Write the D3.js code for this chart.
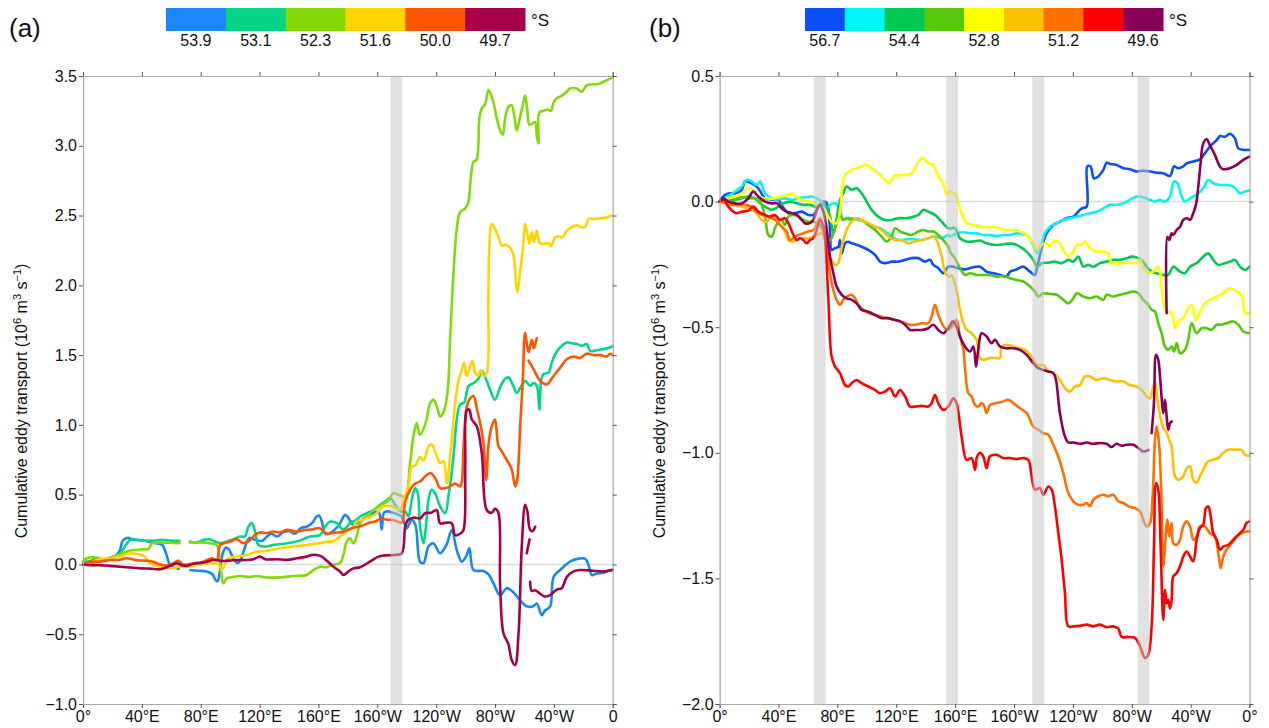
<!DOCTYPE html>
<html>
<head>
<meta charset="utf-8">
<script src="https://cdn.jsdelivr.net/npm/d3@7"></script>
<style>
  body { margin: 0; background: #fff; }
  svg { display: block; font-family: "Liberation Sans", Arial, Helvetica, sans-serif; }
</style>
</head>
<body>
<svg id="chart" width="1269" height="728"></svg>
<script>
// ---------- shared axis content ----------
const lonTicks = [0, 40, 80, 120, 160, 200, 240, 280, 320, 360];
const lonLabelsA = ["0°", "40°E", "80°E", "120°E", "160°E", "160°W", "120°W", "80°W", "40°W", "0"];
const lonLabelsB = ["0°", "40°E", "80°E", "120°E", "160°E", "160°W", "120°W", "80°W", "40°W", "0°"];
const yTicksA = [-1.0, -0.5, 0.0, 0.5, 1.0, 1.5, 2.0, 2.5, 3.0, 3.5];
const yTicksB = [-2.0, -1.5, -1.0, -0.5, 0.0, 0.5];

// ---------- panel (a): six latitudes ----------
const latsA = ["53.9", "53.1", "52.3", "51.6", "50.0", "49.7"];
const colorsA = ["#1987f5", "#05d584", "#84d90a", "#ffd400", "#ff5500", "#a6004a"];
const bandsA = [[209, 217]];

// each series: [longitude (°E, 0–360), cumulative transport]; null breaks the line
const a539 = [[0,0],[5,0.01],[10,0.02],[15,0.03],[20,0.045],[23,0.07],[25,0.1],[27,0.17],[30,0.19],[34,0.18],[38,0.175],[42,0.17],[46,0.16],[50,0.15],[53,0.145],[55,0.12],[57,0.06],[59,0.0],[62,-0.02],[65,-0.03],null,
 [73,-0.04],[78,-0.045],[84,-0.05],[88,-0.07],[90,-0.11],[91.5,-0.12],[93,-0.05],[95,0.08],[97,0.12],[99,0.11],[101,0.07],[103,0.03],[105,0.01],[107,0.03],[109,0.09],[111,0.15],[113,0.19],[116,0.18],[119,0.17],[122,0.17],[125,0.2],[128,0.22],[132,0.2],[136,0.23],[140,0.24],[144,0.22],[148,0.26],[152,0.27],[156,0.3],[158.5,0.34],[160.5,0.35],[162.5,0.3],[164.5,0.22],[167,0.22],[170,0.24],[173,0.27],[175,0.3],[178,0.355],[180,0.34],[183.8,0.284],[188,0.31],[193,0.345],[197.4,0.37],[201,0.375],[203,0.25],[204.5,0.37],[206.4,0.38],[211,0.37],[214.4,0.355],[216.6,0.344],[220,0.26],[223.4,0.32],[226,0.28],[229,0.02],[231.4,0.01],[234.8,0.128],[238,0.152],[242.7,0.08],[247,0.14],[250.6,0.247],[254,0.104],[257.4,0.02],[260.5,0.06],[262.6,0.116],[265.4,-0.04],[272,-0.047],[275.5,-0.07],[279,-0.136],[283.5,-0.22],[288,-0.17],[292.6,-0.2],[297,-0.256],[301.6,-0.3],[306,-0.3],[308.4,-0.28],[311.8,-0.363],[314,-0.33],[317.5,-0.3],[319.8,-0.09],[324.3,-0.04],[331,0.02],[336,0.04],[341.3,0.04],[343.5,0.0],[345.8,-0.076],[349,-0.065],[353.8,-0.06],[358.3,-0.04],[360,-0.04]];

const a531 = [[0,0.02],[5,0.025],[9,0.044],[14,0.035],[20,0.056],[25,0.075],[28,0.12],[30,0.152],[32,0.176],[37,0.175],[43,0.17],[48,0.17],[54,0.176],[60,0.17],[65.5,0.17],null,
 [72.7,0.164],[77,0.158],[81.8,0.176],[86,0.18],[89.8,0.164],[93.2,0.152],[97.7,0.165],[102.2,0.18],[106.7,0.2],[110,0.2],[112.4,0.27],[114.7,0.296],[117,0.235],[119.2,0.14],[122.6,0.128],[130,0.14],[138.5,0.152],[147,0.17],[154.3,0.2],[161,0.21],[164.5,0.27],[168,0.307],[172.5,0.296],[177,0.25],[181.5,0.296],[186,0.32],[188.3,0.344],[192.8,0.367],[197.4,0.39],[202,0.427],[205.3,0.45],[208.7,0.475],[212.1,0.43],[215.5,0.38],[219,0.38],[221.2,0.343],[223.4,0.46],[225.7,0.547],[227.5,0.51],[229.1,0.27],[231.4,0.152],[233,0.26],[234.8,0.463],[237,0.535],[239.3,0.51],[242.7,0.415],[246.1,0.367],[248.4,0.49],[251.8,0.774],[254,1.038],[256.3,1.146],[259,1.16],[262,1.278],[265.4,1.3],[268.8,1.33],[271,1.387],[274.4,1.315],[276.7,1.25],[280,1.18],[283.5,1.27],[286.9,1.33],[289.2,1.34],[292,1.29],[294.8,1.23],[298,1.28],[300.5,1.316],[303.9,1.28],[306,1.3],[308.4,1.28],[310.2,1.11],[311.5,1.33],[313,1.364],[316.4,1.375],[318.6,1.447],[321,1.507],[324.3,1.555],[328.8,1.59],[332.2,1.585],[335.7,1.58],[339,1.567],[342.4,1.58],[344.7,1.53],[349.3,1.535],[353.8,1.543],[359.4,1.56],[360,1.565]];

const a523 = [[0,0.02],[2.5,0.044],[9.3,0.05],[16,0.03],[20.6,0.056],[27.4,0.08],[32,0.1],[36.5,0.104],[41,0.11],[44.5,0.11],[46.7,0.15],[50,0.157],[58,0.155],[65.5,0.152],null,
 [72.7,0.157],[80,0.158],[86,0.152],[90.9,0.14],[93,0.03],[94.3,-0.09],[95.4,-0.135],[97.7,-0.1],[102,-0.09],[106.7,-0.083],[113,-0.09],[118,-0.083],[124.9,-0.093],[134,-0.093],[143,-0.083],[152,-0.075],[156.6,-0.04],[161,-0.016],[165.5,-0.02],[170,-0.003],[174.7,0.01],[177,0.07],[179.2,0.163],[181.5,0.187],[183.8,0.15],[186,0.2],[188.3,0.295],[192.8,0.344],[197.4,0.39],[202,0.42],[207.6,0.46],[211,0.51],[214.4,0.5],[218.9,0.487],[222.3,0.727],[224.6,0.92],[226.8,1.013],[229,0.93],[232.5,1.0],[236,1.157],[238.2,1.18],[240.5,1.13],[242.7,1.06],[245,1.09],[247.7,1.23],[249.5,1.615],[251.8,2.09],[254,2.4],[256.3,2.525],[259.7,2.55],[262,2.6],[263.5,2.765],[265.4,2.885],[267.5,2.9],[269.4,3.196],[271,3.268],[273.3,3.3],[275.6,3.4],[277.8,3.35],[279.4,3.29],[281.2,3.196],[283.5,3.11],[285.3,3.08],[286.9,3.196],[289.2,3.28],[291.4,3.29],[293,3.22],[294.8,3.11],[296.9,3.2],[298.9,3.29],[300.5,3.36],[302.1,3.24],[303.4,3.15],[305.5,3.16],[307.3,3.17],[308.4,3.07],[309.6,3.016],[310.2,3.24],[313,3.25],[316,3.26],[318,3.25],[319.8,3.31],[322,3.34],[325.5,3.36],[328.8,3.387],[331,3.41],[335.6,3.41],[339,3.387],[342.4,3.435],[347,3.44],[351.5,3.447],[356,3.47],[359.4,3.488],[360,3.49]];

const a516 = [[0,0],[5,0.015],[11.6,0.037],[18,0.045],[25.2,0.056],[32,0.08],[38.8,0.07],[42,0.056],[44.4,0.02],[47.8,-0.004],[54.6,-0.02],[61,-0.025],[66,-0.016],[72.7,-0.012],[79.6,0.0],[86,0.008],[92,0.0],[94.3,-0.04],[96.5,0.0],[98.8,0.044],[104,0.056],[111.3,0.068],[118,0.09],[125,0.097],[134,0.116],[143,0.128],[152,0.14],[161,0.152],[165.7,0.164],[170,0.165],[174.7,0.2],[179.3,0.236],[183.8,0.272],[186,0.307],[192.8,0.33],[199.6,0.367],[204,0.415],[207.5,0.42],[211,0.415],[215.5,0.39],[217.8,0.46],[221.2,0.56],[223.4,0.7],[226,0.71],[229.1,0.77],[231.5,0.746],[234.8,0.846],[237,0.86],[239.3,0.81],[242.7,0.726],[245,0.74],[247.2,0.58],[249.5,0.774],[251.5,1.0],[252.9,1.157],[255.2,1.316],[257.4,1.39],[259,1.447],[260.8,1.35],[263,1.42],[264.7,1.46],[266.5,1.375],[268.5,1.35],[270.3,1.39],[272.6,1.35],[274.6,1.38],[275.5,1.9],[276.2,2.285],[277.8,2.44],[280,2.405],[282.4,2.345],[284.6,2.285],[287,2.29],[290.3,2.27],[292.6,2.213],[294.4,2.0],[295.3,1.95],[297,2.09],[298.9,2.26],[300.5,2.44],[302.1,2.36],[303.4,2.3],[305,2.38],[306.5,2.31],[308.4,2.39],[310.7,2.3],[314,2.3],[316.4,2.3],[318,2.28],[320.9,2.345],[323,2.35],[325.5,2.345],[328.8,2.39],[332.2,2.418],[335.6,2.43],[338,2.418],[341.3,2.418],[343.6,2.477],[347,2.475],[351.5,2.48],[356,2.487],[359.4,2.5],[360,2.5]];

const a500 = [[0,0],[4.8,0.02],[11.6,0.02],[18.4,0.032],[24,0.032],[29.7,0.044],[36.5,0.03],[43.3,0.027],[47.8,0.02],[52.4,0.0],[56.9,-0.008],[61.4,0.008],[64.8,0.027],[68,0.0],[75,0.008],[81.8,0.02],[87.5,0.044],[90.9,0.032],[93.2,0.14],[95.4,0.15],[100,0.164],[104.5,0.18],[109,0.152],[113.5,0.175],[117,0.212],[120.3,0.229],[124.9,0.225],[129.4,0.236],[134,0.23],[138.5,0.248],[145.3,0.236],[152,0.248],[156.6,0.253],[161,0.26],[165.7,0.22],[170.2,0.228],[174.7,0.23],[179.3,0.245],[182.7,0.26],[188.3,0.273],[195,0.3],[199,0.31],[203,0.33],[206.4,0.32],[209.8,0.32],[213.2,0.31],[216.6,0.3],[219,0.45],[222.3,0.535],[225.7,0.58],[229.1,0.595],[232.5,0.63],[236,0.655],[239.3,0.62],[242.7,0.547],[246.1,0.547],[249.5,0.56],[252.9,0.58],[256.3,0.56],[258.6,0.845],[260.8,1.133],[263.1,1.19],[265.4,1.206],[267.6,1.12],[269.9,1.013],[272.2,0.87],[274,0.606],[275.6,0.86],[277.8,0.99],[280,1.038],[282.3,0.85],[284.6,0.81],[288,0.75],[291.4,0.68],[293.7,0.558],[295,0.6],[297.1,0.99],[298.9,1.325],[300.5,1.66],[302.8,1.52],[305,1.61],[306.5,1.55],[308.4,1.62],null,
 [302.8,1.46],[306.2,1.4],[310.7,1.316],[315.2,1.29],[319.8,1.35],[324.3,1.41],[328.8,1.47],[333.4,1.49],[337.9,1.48],[342.4,1.51],[347,1.5],[351.5,1.5],[356,1.49],[358.3,1.51],[360,1.5]];

const a497 = [[0,0],[5,-0.005],[11.6,-0.006],[18,-0.01],[25.2,-0.016],[32,-0.022],[38.8,-0.028],[45.6,-0.03],[52.4,-0.035],[56.9,-0.02],[63.7,0.008],[67,-0.005],[70.5,-0.01],[75,0.005],[81.8,0.013],[88.6,0.032],[95.4,0.025],[102,0.03],[109,0.032],[115,0.035],[120.3,0.056],[124,0.037],[131.7,0.037],[138.5,0.033],[145.3,0.044],[152,0.056],[155.5,0.068],[158.9,0.068],[162.3,0.056],[165.7,0.027],[170.2,-0.016],[174.7,-0.05],[177,-0.075],[180.4,-0.05],[183.8,-0.028],[188.3,-0.02],[195,0.02],[200.8,0.056],[205.3,0.065],[211,0.068],[216.6,0.08],[219,0.27],[221,0.32],[224.6,0.335],[229.1,0.33],[232.5,0.367],[236.5,0.37],[240.4,0.39],[242.7,0.295],[247.2,0.3],[250.6,0.295],[252.9,0.21],[256.4,0.22],[258.6,0.247],[259.8,0.7],[260.8,1.1],[262.5,1.11],[264.2,1.04],[267.6,0.99],[271,0.8],[274.4,0.39],[277.8,0.37],[280,0.4],[282.3,0.37],[283.5,-0.16],[285.8,-0.495],[289,-0.567],[291.4,-0.686],[293.7,-0.72],[296,-0.495],[298.2,0.128],[300.5,0.427],[302,0.38],[303.9,0.247],[305.6,0.24],[307.3,0.27],null,
 [301.6,0.08],[303.5,0.18],null,
 [303.9,-0.124],[305,-0.19],[307.3,-0.185],[310.7,-0.21],[314,-0.23],[317.4,-0.22],[322,-0.18],[325.4,-0.17],[328.8,-0.09],[333.4,-0.05],[338,-0.04],[346.8,-0.045],[353.8,-0.05],[359.4,-0.04],[360,-0.04]];

const seriesA = [a539, a531, a523, a516, a500, a497];

// ---------- panel (b): nine latitudes ----------
const latsB = ["56.7", "", "54.4", "", "52.8", "", "51.2", "", "49.6"];
const colorsB = ["#0a50f5", "#00f5f5", "#00c853", "#55c80a", "#ffff00", "#ffc000", "#ff7000", "#ff0000", "#8a0058"];
const bandsB = [[64, 72], [154, 162], [212.5, 220.5], [284, 292]];

const b1 = [[0,0],[3.7,0.027],[7,0.033],[11,0.033],[15,0.046],[17.3,0.08],[21.8,0.073],[26.3,0.053],[30.8,0.013],[35.4,0.009],[39.9,0.007],[42,-0.013],[46.7,-0.046],[51,-0.046],[55.8,-0.04],[60.3,-0.053],[63.7,-0.053],[67.1,-0.02],[70.5,0.0],[72.8,-0.007],[75,-0.113],[76.1,-0.192],[78.4,-0.185],[80.7,-0.18],[81.8,-0.153],[83,-0.206],[85.2,-0.166],[87.5,-0.16],[89.7,-0.166],[93.1,-0.172],[96.5,-0.18],[101,-0.192],[105.6,-0.212],[109,-0.239],[112.4,-0.245],[116.9,-0.239],[121.4,-0.239],[126,-0.232],[130.5,-0.225],[135,-0.225],[139.5,-0.239],[143,-0.232],[145.2,-0.252],[148.6,-0.265],[152,-0.285],[155.4,-0.259],[158,-0.259],[162.2,-0.265],[166.7,-0.27],[170,-0.265],[176.9,-0.259],[181.4,-0.279],[186,-0.285],[190.5,-0.292],[195,-0.298],[197.3,-0.279],[201.8,-0.27],[206.3,-0.259],[210.9,-0.279],[214.2,-0.292],[215.8,-0.259],[218.8,-0.186],[222.2,-0.126],[226.7,-0.093],[231.2,-0.08],[235.8,-0.066],[240.3,-0.06],[243.7,-0.04],[246,-0.027],[249.4,-0.02],[249.8,0.14],[252,0.14],[254.3,0.093],[257.3,0.1],[260.7,0.126],[263,0.155],[265.2,0.15],[269.7,0.146],[274.3,0.133],[278.8,0.129],[283.3,0.12],[287.8,0.123],[292.4,0.12],[296.9,0.115],[301.4,0.113],[306,0.102],[308.7,0.14],[311.6,0.133],[315,0.14],[317.3,0.152],[321.8,0.16],[326.3,0.168],[329.7,0.192],[333.1,0.219],[337.7,0.245],[340,0.261],[343.3,0.258],[346.7,0.27],[350.1,0.252],[352.4,0.212],[355.8,0.206],[360,0.206]];

const b2 = [[0,0],[5,0.02],[10.5,0.04],[15,0.06],[18.4,0.086],[21.8,0.08],[25.2,0.066],[27.5,0.08],[30.9,0.033],[35.4,0.013],[39.9,0.009],[44.4,0.013],[49,0.007],[53.5,0.013],[58,0.017],[62.5,0.02],[66,0.013],[69.3,0.0],[72.8,-0.027],[75,-0.013],[78.4,-0.007],[81.8,-0.033],[84,-0.073],[86.3,-0.066],[89.7,-0.066],[94.3,-0.073],[98.8,-0.08],[102.2,-0.093],[105.6,-0.102],[109,-0.106],[112.4,-0.119],[116.9,-0.139],[121.5,-0.153],[127,-0.15],[132.8,-0.15],[137.3,-0.153],[141.8,-0.146],[146.3,-0.139],[150.9,-0.146],[155.4,-0.133],[156.5,-0.139],[161,-0.126],[165.5,-0.122],[170,-0.126],[174.6,-0.126],[179.1,-0.133],[183.6,-0.133],[188.2,-0.137],[192.7,-0.133],[197.2,-0.133],[201.8,-0.126],[206.3,-0.129],[209.7,-0.139],[213.1,-0.172],[215.8,-0.206],[218.8,-0.166],[221,-0.126],[224.4,-0.1],[229,-0.086],[233.5,-0.073],[238,-0.066],[242.6,-0.06],[247.1,-0.053],[251.6,-0.046],[256.1,-0.04],[260.7,-0.027],[265.2,-0.013],[269.7,-0.013],[274.3,-0.007],[278.8,0.007],[283.3,0.02],[287.8,0.017],[292.4,0.007],[295.8,0.0],[299.2,0.007],[302.6,0.0],[306,0.02],[308.7,0.08],[311,0.073],[313.9,0.02],[316.2,0.0],[319.6,0.013],[324.1,0.027],[328.6,0.053],[332,0.086],[335.4,0.073],[340,0.066],[344.5,0.066],[349,0.06],[351.3,0.046],[353.5,0.033],[356.9,0.04],[360,0.044]];

const b3 = [[0,0],[6,-0.004],[10.5,0.007],[15,0.013],[19.5,0.02],[24,0.013],[27.5,-0.007],[30.9,-0.02],[35.4,-0.033],[39.9,-0.02],[43.3,-0.007],[47.8,0.0],[52.4,-0.007],[57,-0.013],[61.5,-0.013],[64.8,-0.02],[68.2,-0.02],[71.7,-0.013],[75,-0.06],[77.3,-0.126],[79.5,-0.07],[81.8,0.007],[84,0.033],[86.3,0.06],[89.7,0.047],[93.1,0.053],[96.5,0.033],[99.9,0.0],[103.3,-0.033],[107.8,-0.06],[112.4,-0.073],[116.9,-0.073],[121.4,-0.066],[126,-0.066],[130.5,-0.062],[135,-0.053],[138.4,-0.033],[141.8,-0.04],[146.3,-0.053],[150.9,-0.08],[155.4,-0.106],[160,-0.106],[163.3,-0.146],[167.8,-0.159],[172.4,-0.159],[176.9,-0.155],[181.4,-0.166],[186,-0.172],[190.5,-0.172],[195,-0.168],[199.5,-0.168],[204,-0.179],[208.6,-0.199],[213.1,-0.232],[215.8,-0.259],[218.8,-0.245],[223.3,-0.243],[227.8,-0.239],[232.4,-0.245],[236.9,-0.232],[240.3,-0.239],[243.7,-0.219],[247.1,-0.259],[250.5,-0.252],[253.9,-0.259],[258.4,-0.245],[262.9,-0.239],[267.5,-0.232],[272,-0.232],[276.5,-0.226],[279.9,-0.219],[283.3,-0.222],[286.7,-0.232],[290.1,-0.259],[293.5,-0.279],[296.9,-0.285],[301.4,-0.292],[304.8,-0.292],[308.2,-0.259],[312.8,-0.279],[316.2,-0.285],[319.6,-0.259],[324.1,-0.245],[328.6,-0.219],[332,-0.206],[335.4,-0.232],[338.8,-0.252],[343.3,-0.245],[346.7,-0.239],[350.1,-0.232],[353.5,-0.259],[357,-0.272],[360,-0.259]];

const b4 = [[0,0],[6,0.004],[10.5,0.013],[15,0.017],[19.5,0.013],[24,0.013],[27.5,0.0],[30.9,-0.06],[33.1,-0.133],[35.4,-0.139],[37.6,-0.106],[39.9,-0.08],[42.2,-0.073],[44.4,-0.093],[46.7,-0.06],[50,-0.053],[53.5,-0.06],[57,-0.073],[60.3,-0.08],[63.7,-0.08],[66,-0.086],[69,-0.1],[71.7,-0.139],[75,-0.153],[77.3,-0.126],[79.5,-0.086],[81.8,-0.053],[84,-0.073],[86.3,-0.066],[89.7,-0.073],[93.1,-0.066],[96.5,-0.073],[101,-0.093],[105.6,-0.113],[110.1,-0.139],[113.5,-0.159],[116.9,-0.139],[119.2,-0.106],[122.6,-0.119],[126,-0.126],[130.5,-0.133],[135,-0.119],[138.4,-0.113],[141.8,-0.119],[145.2,-0.119],[148.6,-0.133],[152,-0.153],[155.4,-0.179],[156.5,-0.199],[159.9,-0.226],[163.3,-0.265],[166.7,-0.292],[170.1,-0.285],[174.6,-0.292],[179.1,-0.292],[183.7,-0.292],[188.2,-0.299],[192.7,-0.296],[197.3,-0.305],[201.8,-0.312],[206.3,-0.318],[210.9,-0.338],[214.2,-0.358],[216.5,-0.378],[219.9,-0.365],[224.4,-0.368],[229,-0.371],[233.5,-0.391],[236.9,-0.405],[240.3,-0.385],[242.6,-0.365],[247.1,-0.378],[251.6,-0.385],[256.1,-0.378],[260.7,-0.391],[263,-0.371],[267.5,-0.378],[272,-0.371],[276.5,-0.365],[281,-0.358],[284.5,-0.365],[287.8,-0.391],[291.2,-0.411],[293.5,-0.431],[295.8,-0.438],[298,-0.484],[300.3,-0.524],[302.6,-0.577],[304.8,-0.59],[307.1,-0.577],[308.7,-0.597],[310.5,-0.564],[312.8,-0.604],[316.2,-0.59],[318.4,-0.55],[320.7,-0.484],[324.1,-0.524],[327.5,-0.504],[330.9,-0.504],[334.3,-0.51],[337.7,-0.49],[341,-0.49],[344.5,-0.484],[349,-0.477],[352.4,-0.49],[355.8,-0.517],[360,-0.524]];

const b5 = [[0,0],[5,0.013],[10.5,0.02],[15,0.033],[19.5,0.053],[23,0.047],[26.3,0.02],[30.9,0.013],[37,0.013],[42.2,0.02],[46.7,0.027],[49,0.033],[51.5,0.02],[55.8,0.007],[60.3,0.0],[64.8,-0.007],[69.3,-0.02],[73.9,-0.06],[76.1,-0.08],[79.5,-0.086],[81.8,-0.04],[84,0.086],[86.3,0.113],[89.7,0.126],[93.1,0.133],[96.5,0.14],[99.9,0.146],[103.3,0.133],[107.8,0.113],[112.4,0.086],[115.8,0.073],[118,0.1],[122.6,0.106],[127,0.106],[130.5,0.113],[132.8,0.133],[136.1,0.166],[138.4,0.172],[141.8,0.153],[145.2,0.146],[148.6,0.1],[152,0.073],[154.3,0.027],[156.5,0.04],[159,0.033],[161,0.02],[164.4,-0.046],[167.8,-0.086],[172.4,-0.093],[176.9,-0.1],[181.4,-0.102],[186,-0.1],[190.5,-0.106],[195,-0.113],[199.5,-0.113],[204,-0.119],[208.6,-0.133],[213.1,-0.166],[215.4,-0.192],[218.8,-0.172],[222.2,-0.166],[224.5,-0.179],[226.7,-0.159],[230,-0.159],[233.5,-0.192],[236.9,-0.219],[240.3,-0.199],[242.6,-0.172],[246,-0.172],[248.2,-0.159],[251.6,-0.186],[256.1,-0.199],[260.7,-0.199],[264.1,-0.206],[266.3,-0.245],[269.7,-0.245],[274.3,-0.245],[278.8,-0.242],[283.3,-0.245],[285.6,-0.232],[287.8,-0.259],[291.2,-0.285],[294.6,-0.279],[298,-0.259],[301.4,-0.398],[303.7,-0.438],[307.1,-0.444],[309.4,-0.504],[311.6,-0.477],[315,-0.464],[318.4,-0.424],[320.7,-0.411],[323.6,-0.471],[326.3,-0.438],[329.7,-0.405],[333.1,-0.391],[337.7,-0.378],[342.2,-0.365],[346.7,-0.345],[351.3,-0.358],[354.7,-0.371],[356.9,-0.444],[360,-0.444]];

const b6 = [[0,0],[6,-0.007],[10.5,-0.013],[15,-0.02],[19.5,-0.027],[24.1,-0.04],[28.6,-0.073],[32,-0.08],[35.4,-0.053],[38.8,-0.073],[42.2,-0.1],[44.4,-0.119],[46.7,-0.153],[49,-0.159],[52.4,-0.153],[55.8,-0.146],[60.3,-0.146],[63.7,-0.139],[66,-0.133],[69.4,-0.126],[71.7,-0.153],[73.9,-0.206],[76.1,-0.232],[78.4,-0.252],[80.6,-0.245],[83,-0.179],[86.3,-0.113],[89.7,-0.08],[93.1,-0.066],[96.5,-0.073],[101,-0.086],[105.6,-0.1],[110.1,-0.113],[114.6,-0.139],[119.2,-0.153],[123.7,-0.153],[128.2,-0.166],[132.8,-0.159],[137.3,-0.153],[141.8,-0.146],[145.2,-0.139],[147.5,-0.153],[150.9,-0.219],[153.1,-0.279],[155.4,-0.298],[157.7,-0.295],[160,-0.33],[161.5,-0.365],[163.3,-0.431],[165.6,-0.484],[167.8,-0.51],[171.2,-0.524],[174.6,-0.55],[176.9,-0.623],[179.1,-0.63],[183.7,-0.623],[188.2,-0.623],[190.5,-0.623],[191.6,-0.577],[195,-0.57],[199.5,-0.577],[204,-0.584],[207.5,-0.59],[212,-0.617],[215.8,-0.65],[219.9,-0.65],[223.3,-0.676],[226.7,-0.683],[231.2,-0.71],[234.6,-0.743],[238,-0.756],[241.4,-0.736],[244.8,-0.73],[248.2,-0.696],[251.6,-0.696],[256.1,-0.71],[260.7,-0.703],[265.2,-0.71],[269.7,-0.716],[274.3,-0.716],[278.8,-0.73],[283.3,-0.736],[286.7,-0.75],[290.1,-0.776],[292.4,-0.783],[294.6,-0.736],[296,-0.72],[297.5,-0.79],[299.5,-0.86],[301.5,-0.9],[303.7,-0.92],[305.5,-0.95],[307.1,-0.975],[309.4,-1.094],[311.6,-1.107],[315,-1.094],[317.3,-1.061],[319.6,-1.054],[321.8,-1.107],[324.1,-1.12],[326.3,-1.094],[328.6,-1.067],[332,-1.034],[335.4,-1.027],[338.8,-1.021],[342.2,-1.0],[345.6,-0.988],[350.1,-0.988],[354.6,-0.988],[357,-1.008],[360,-1.012]];

const b7 = [[0,0],[4,-0.007],[8.2,-0.013],[12.7,-0.013],[17.3,-0.013],[21.8,-0.02],[25.2,-0.04],[28.6,-0.053],[33.1,-0.06],[37.6,-0.073],[42.2,-0.1],[45.6,-0.119],[47.8,-0.153],[50,-0.146],[53.5,-0.133],[57,-0.126],[60.3,-0.119],[63.7,-0.113],[66,-0.093],[68.2,-0.066],[70.5,-0.1],[72.8,-0.179],[75,-0.285],[77.3,-0.352],[79.5,-0.391],[81.8,-0.411],[84,-0.391],[86.3,-0.378],[89.7,-0.371],[92,-0.385],[94.3,-0.411],[97.7,-0.431],[101,-0.444],[105.6,-0.451],[110.1,-0.458],[114.6,-0.464],[119.2,-0.471],[122.6,-0.477],[126,-0.484],[129.4,-0.49],[133,-0.49],[137.3,-0.484],[141.8,-0.484],[144,-0.458],[146.3,-0.411],[148.6,-0.451],[150.9,-0.484],[153.1,-0.504],[155.4,-0.51],[158.8,-0.49],[161,-0.471],[163.3,-0.537],[165.6,-0.59],[167,-0.683],[169,-0.763],[171.2,-0.776],[173.5,-0.809],[175.7,-0.816],[178,-0.802],[179.5,-0.81],[181.4,-0.842],[183.7,-0.809],[188.2,-0.802],[192.7,-0.796],[196.1,-0.789],[199.5,-0.802],[204,-0.822],[208.6,-0.842],[210.9,-0.868],[213.1,-0.895],[216.5,-0.908],[219.9,-0.922],[223.3,-0.928],[226.7,-0.968],[230.1,-1.015],[233.5,-1.081],[236.9,-1.16],[240.3,-1.193],[243.7,-1.207],[247.1,-1.207],[249.4,-1.2],[251.6,-1.213],[253.9,-1.187],[257.3,-1.173],[260.7,-1.167],[264.1,-1.173],[267.5,-1.167],[270.9,-1.193],[274.3,-1.2],[277.7,-1.213],[282.2,-1.22],[285.6,-1.233],[287.8,-1.266],[290.1,-1.293],[292.4,-1.28],[294.2,-1.173],[295.8,-0.948],[296.9,-0.895],[298.7,-0.975],[300.3,-1.213],[301.4,-1.452],[302.6,-1.373],[304.2,-1.266],[305.5,-1.333],[307.1,-1.28],[308.2,-1.36],[310.5,-1.366],[312.8,-1.346],[315,-1.293],[317.3,-1.273],[319.6,-1.293],[321.8,-1.346],[324.1,-1.333],[326.3,-1.293],[329.7,-1.293],[333.1,-1.32],[336.5,-1.333],[338.8,-1.4],[340.4,-1.459],[342.2,-1.413],[344.5,-1.386],[347.9,-1.36],[351.3,-1.333],[354.7,-1.32],[358,-1.313],[360,-1.313]];

const b8 = [[0,0],[2.7,0.007],[5.9,-0.02],[9.3,-0.04],[11.6,-0.046],[15,-0.04],[19.5,-0.036],[22.9,-0.02],[26.3,-0.04],[30.9,-0.053],[34.2,-0.06],[37.6,-0.053],[41,-0.073],[44.4,-0.066],[46.7,-0.086],[50.2,-0.133],[52.4,-0.153],[54.6,-0.146],[56.9,-0.153],[59.1,-0.166],[61.4,-0.153],[63.7,-0.146],[66,-0.113],[68.2,-0.073],[70.5,-0.1],[71.7,-0.153],[73.9,-0.391],[76.1,-0.617],[78.4,-0.657],[81.8,-0.683],[85.2,-0.73],[87.5,-0.736],[89.7,-0.723],[93.1,-0.71],[96.5,-0.723],[101,-0.736],[105.6,-0.75],[109,-0.763],[112.4,-0.756],[115.8,-0.743],[119.2,-0.776],[122.6,-0.75],[126,-0.776],[129.4,-0.816],[132.8,-0.816],[137.3,-0.813],[141.8,-0.816],[144,-0.803],[146.3,-0.77],[148.6,-0.803],[152,-0.829],[155.4,-0.816],[158.8,-0.783],[161,-0.803],[164.4,-0.935],[167.8,-1.028],[171.2,-1.021],[173.5,-1.068],[174.7,-1.02],[176.9,-1.0],[179.1,-1.014],[181.4,-1.061],[183.7,-1.014],[188.2,-1.008],[192.7,-1.021],[197.2,-1.021],[201.8,-1.025],[206.3,-1.021],[209.7,-1.028],[212,-1.094],[214.2,-1.147],[217.6,-1.14],[219.9,-1.167],[223.3,-1.134],[225.6,-1.147],[227.8,-1.213],[230.1,-1.32],[232.4,-1.426],[234.6,-1.558],[236.9,-1.691],[240.3,-1.691],[244.8,-1.689],[249.4,-1.684],[253.9,-1.691],[258.4,-1.684],[262.9,-1.694],[267.4,-1.691],[270.9,-1.7],[273.1,-1.733],[277.7,-1.733],[282.2,-1.737],[285.6,-1.77],[289,-1.817],[291.2,-1.804],[293.5,-1.691],[295.1,-1.372],[296.5,-1.12],[298,-1.147],[299.6,-1.372],[301.4,-1.665],[302.6,-1.545],[303.7,-1.6],[304.8,-1.585],[306,-1.62],[307.1,-1.585],[307.5,-1.519],[308.2,-1.492],[310.5,-1.479],[312.8,-1.452],[315,-1.413],[317.3,-1.393],[319.6,-1.413],[321.8,-1.432],[324.1,-1.346],[326.3,-1.3],[328.6,-1.286],[330.4,-1.22],[332,-1.214],[333.6,-1.253],[335.4,-1.32],[337.7,-1.346],[340,-1.386],[342.2,-1.373],[345.6,-1.366],[349,-1.346],[352.4,-1.326],[355.8,-1.306],[358,-1.28],[360,-1.273]];

const b9 = [[0,0],[2.6,0.013],[6,0.0],[10.5,-0.007],[15,-0.007],[19.5,0.013],[22.9,0.04],[26.3,0.02],[30.9,0.0],[35.4,-0.007],[39,-0.007],[42.2,-0.027],[45.6,-0.04],[49,-0.046],[52.4,-0.053],[55.8,-0.073],[58,-0.086],[61,-0.086],[63.7,-0.073],[66,-0.033],[68.2,-0.013],[70.5,-0.04],[72.8,-0.113],[75,-0.219],[77.3,-0.285],[79.5,-0.338],[83,-0.371],[86.3,-0.385],[89.7,-0.391],[93.1,-0.405],[96.5,-0.431],[101,-0.438],[105.6,-0.451],[110.1,-0.464],[114.6,-0.464],[119.2,-0.471],[122.6,-0.477],[126,-0.49],[129.4,-0.511],[133,-0.511],[137.3,-0.511],[141.8,-0.504],[145.2,-0.49],[148.6,-0.511],[152,-0.524],[155.4,-0.504],[158.5,-0.477],[160.4,-0.49],[163.3,-0.537],[166.7,-0.577],[170.1,-0.597],[172.4,-0.577],[174.2,-0.657],[175.7,-0.59],[178,-0.524],[181.4,-0.537],[184.8,-0.564],[187.1,-0.55],[190.5,-0.577],[195,-0.584],[199.5,-0.584],[204,-0.59],[208.6,-0.61],[213.1,-0.643],[216.5,-0.663],[219.9,-0.67],[223.3,-0.676],[226.7,-0.683],[228.5,-0.71],[231.2,-0.842],[234.6,-0.935],[236.9,-0.959],[240.3,-0.959],[244.8,-0.964],[249.4,-0.959],[253.9,-0.964],[258.4,-0.961],[262.9,-0.964],[266.3,-0.977],[269.7,-0.964],[273.1,-0.972],[276.5,-0.968],[281,-0.968],[284.5,-0.981],[287.8,-0.995],[291.2,-0.988],null,
 [293.5,-0.922],[295.1,-0.8],[296.5,-0.61],[298,-0.63],[299.2,-0.696],[300.3,-0.78],[301.4,-0.842],[302.6,-0.789],[303.7,-0.855],[304.8,-0.908],[306,-0.882],[307.1,-0.875],null,
 [303.7,-0.444],[304.2,-0.14],[305.5,-0.153],[307.1,-0.126],[308.2,-0.133],[310.5,-0.113],[312.8,-0.1],[315,-0.073],[317.3,-0.066],[319.6,-0.073],[321.8,-0.046],[323.6,-0.013],[325.2,0.06],[326.8,0.153],[328.6,0.232],[330.9,0.248],[333.1,0.225],[336.5,0.186],[340,0.139],[342.2,0.129],[346.7,0.133],[351.3,0.146],[355.8,0.166],[360,0.179]];

const seriesB = [b1, b2, b3, b4, b5, b6, b7, b8, b9];

// ---------- drawing ----------
const svg = d3.select("#chart");
const yTitle = ["Cumulative eddy transport (10", "6", " m", "3", " s", "−1", ")"];

function drawPanel(cfg) {
  const g = svg.append("g");
  const x = d3.scaleLinear().domain([0, 360]).range([cfg.left, cfg.right]);
  const y = d3.scaleLinear().domain(cfg.yDomain).range([cfg.bottom, cfg.top]);

  // zero reference line
  g.append("line")
    .attr("x1", x(0)).attr("x2", x(360))
    .attr("y1", y(0)).attr("y2", y(0))
    .attr("stroke", "#dcdcdc").attr("stroke-width", 1.5);

  // transport curves
  const line = d3.line()
    .defined(d => d !== null)
    .x(d => x(d[0]))
    .y(d => y(d[1]))
    .curve(d3.curveCatmullRom.alpha(0.5));
  g.selectAll("path.series")
    .data(cfg.series)
    .join("path")
    .attr("class", "series")
    .attr("d", line)
    .attr("fill", "none")
    .attr("stroke", (d, i) => cfg.colors[i])
    .attr("stroke-width", 2.6)
    .attr("stroke-linejoin", "round")
    .attr("stroke-linecap", "round");

  // translucent longitude bands laid over the curves
  g.selectAll("rect.band")
    .data(cfg.bands)
    .join("rect")
    .attr("class", "band")
    .attr("x", d => x(d[0]))
    .attr("width", d => x(d[1]) - x(d[0]))
    .attr("y", cfg.top)
    .attr("height", cfg.bottom - cfg.top)
    .attr("fill", "#c4c4c4")
    .attr("opacity", 0.5);

  // axes on all four sides
  const fmt = d3.format(".1f");
  const styleAxis = sel => {
    sel.select(".domain").attr("stroke", "#a8a8a8").attr("stroke-width", 1.2);
    sel.selectAll(".tick line").attr("stroke", "#555");
    sel.selectAll(".tick text").attr("fill", "#111").attr("font-size", 16)
      .attr("font-family", "'Liberation Sans', Arial, Helvetica, sans-serif");
  };
  g.append("g").attr("transform", `translate(0,${cfg.bottom})`)
    .call(d3.axisBottom(x).tickValues(lonTicks).tickSize(4).tickPadding(3)
      .tickFormat((d, i) => cfg.lonLabels[i]))
    .call(styleAxis);
  g.append("g").attr("transform", `translate(0,${cfg.top})`)
    .call(d3.axisTop(x).tickValues(lonTicks).tickSize(4).tickFormat(""))
    .call(styleAxis);
  g.append("g").attr("transform", `translate(${cfg.left},0)`)
    .call(d3.axisLeft(y).tickValues(cfg.yTicks).tickSize(4).tickPadding(2).tickFormat(fmt))
    .call(styleAxis);
  g.append("g").attr("transform", `translate(${cfg.right},0)`)
    .call(d3.axisRight(y).tickValues(cfg.yTicks).tickSize(4).tickFormat(""))
    .call(styleAxis);

  // y-axis title with superscripts
  const t = g.append("text")
    .attr("transform", `translate(${cfg.titleX},${(cfg.top + cfg.bottom) / 2 + 11}) rotate(-90)`)
    .attr("text-anchor", "middle")
    .attr("font-size", 16)
    .attr("fill", "#111");
  yTitle.forEach((s, i) => {
    const sup = i % 2 === 1;
    t.append("tspan")
      .attr("font-size", sup ? 11 : 16)
      .attr("dy", sup ? -6 : (i > 0 ? 6 : 0))
      .text(s);
  });

  // panel letter
  g.append("text")
    .attr("x", cfg.letterX).attr("y", 37)
    .attr("font-size", 26).attr("fill", "#111")
    .text(cfg.letter);

  // colour key
  const kx = d3.scaleBand().domain(d3.range(cfg.lats.length)).range(cfg.keyRange).paddingInner(0);
  const key = g.append("g");
  key.selectAll("rect")
    .data(cfg.lats)
    .join("rect")
    .attr("x", (d, i) => kx(i))
    .attr("y", 8)
    .attr("width", kx.bandwidth() + 0.5)
    .attr("height", 23)
    .attr("fill", (d, i) => cfg.colors[i]);
  key.selectAll("text.lab")
    .data(cfg.lats)
    .join("text")
    .attr("class", "lab")
    .attr("x", (d, i) => kx(i) + kx.bandwidth() / 2)
    .attr("y", 46)
    .attr("text-anchor", "middle")
    .attr("font-size", 16)
    .attr("fill", "#111")
    .text(d => d);
  key.append("text")
    .attr("x", cfg.keyRange[1] + 6).attr("y", 26)
    .attr("font-size", 17).attr("fill", "#111")
    .text("°S");
}

drawPanel({
  letter: "(a)", letterX: 9, titleX: 27,
  left: 83, right: 612.7, top: 76, bottom: 704,
  yDomain: [-1.0, 3.5], yTicks: yTicksA, lonLabels: lonLabelsA,
  series: seriesA, colors: colorsA, bands: bandsA,
  lats: latsA, keyRange: [166, 525]
});

drawPanel({
  letter: "(b)", letterX: 649, titleX: 665,
  left: 719.6, right: 1249.5, top: 76, bottom: 704,
  yDomain: [-2.0, 0.5], yTicks: yTicksB, lonLabels: lonLabelsB,
  series: seriesB, colors: colorsB, bands: bandsB,
  lats: latsB, keyRange: [805, 1163]
});
</script>
</body>
</html>
